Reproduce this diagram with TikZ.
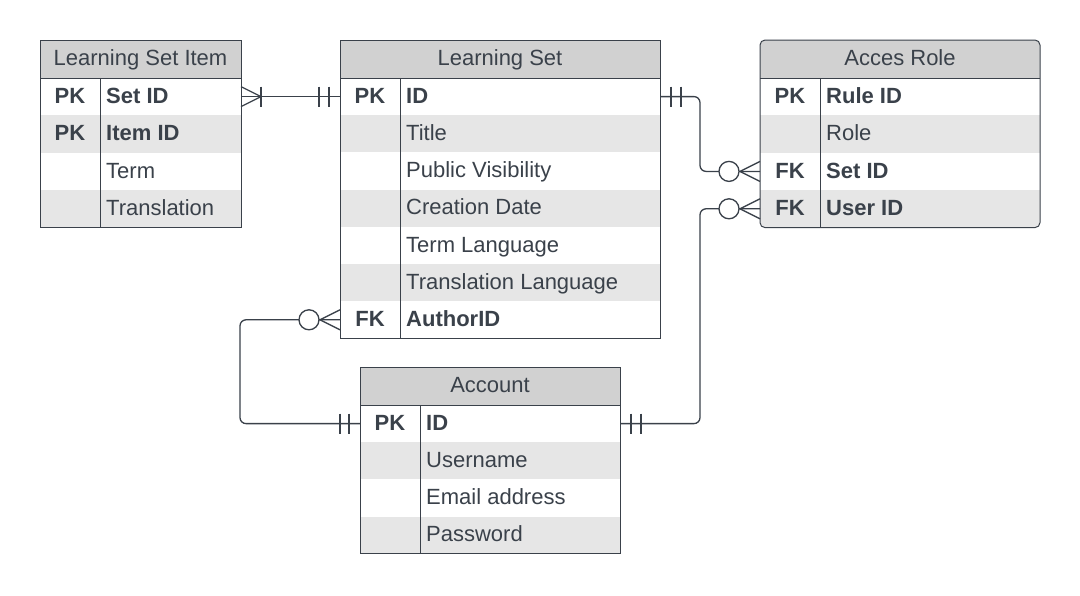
\documentclass[tikz,border=0pt]{standalone}
\usepackage{fontspec}
\setmainfont{Liberation Sans}
\usetikzlibrary{calc}
\definecolor{ink}{HTML}{3A414A}
\definecolor{hdr}{HTML}{D1D1D1}
\definecolor{alt}{HTML}{E6E6E6}
\newcommand\erfont{\fontsize{22}{26}\selectfont}
\tikzset{
  rowbox/.style={rectangle, inner sep=0pt, outer sep=0pt, minimum height=37.2pt, draw=none, anchor=north west},
  hdrbox/.style={rectangle, inner sep=0pt, outer sep=0pt, minimum height=38pt, anchor=north west, draw=none},
  hdrtxt/.style={font=\erfont, text=ink, inner sep=0pt, text height=15.7pt, text depth=0pt},
  keytxt/.style={font=\erfont\bfseries, text=ink, inner sep=0pt, text height=15.7pt, text depth=0pt},
  fldtxt/.style={font=\erfont, text=ink, anchor=west, inner sep=0pt, text height=15.7pt, text depth=0pt},
  border/.style={draw=ink, line width=1pt},
  conn/.style={draw=ink, line width=1.3pt},
  ring/.style={draw=ink, line width=1.3pt, fill=white},
}
% header: name, x, y, width, title
\newcommand\erhead[5]{%
  \node[hdrbox, fill=hdr, minimum width=#4pt] (#1) at (#2,#3) {};
  \node[hdrtxt] (#1-t) at ($(#1.center)+(0,-1.5)$) {#5};
}
% row with key: name, x, y, width, fill, key, field
\newcommand\erowk[7]{%
  \node[rowbox, fill=#5, minimum width=#4pt] (#1) at (#2,#3) {};
  \node[keytxt] (#1-k) at ($(#1.west)+(30,-1.2)$) {#6};
  \node[fldtxt] (#1-f) at ($(#1.west)+(66,-1.2)$) {#7};
}
% row without key
\newcommand\erow[6]{%
  \node[rowbox, fill=#5, minimum width=#4pt] (#1) at (#2,#3) {};
  \node[fldtxt] (#1-f) at ($(#1.west)+(66,-1.2)$) {#6};
}
\begin{document}
\begin{tikzpicture}[x=1pt,y=-1pt]
\useasboundingbox (0,0) rectangle (1080,595);
\fill[white] (0,0) rectangle (1080,595);

% ---------- Learning Set Item ----------
\erhead{lsi}{40}{40}{201}{Learning Set Item}
\erowk{lsi-r1}{40}{78}{201}{white}{PK}{\textbf{Set ID}}
\erowk{lsi-r2}{40}{115.4}{201}{alt}{PK}{\textbf{Item ID}}
\erow{lsi-r3}{40}{152.8}{201}{white}{Term}
\erow{lsi-r4}{40}{190.2}{201}{alt}{Translation}
\draw[border] (40,40) rectangle (241,227.6);
\draw[border] (40,78) -- (241,78);
\draw[border] (100,78) -- (100,227.6);

% ---------- Learning Set ----------
\erhead{ls}{340}{40}{320}{Learning Set}
\erowk{ls-r1}{340}{78}{320}{white}{PK}{\textbf{ID}}
\erow{ls-r2}{340}{115.2}{320}{alt}{Title}
\erow{ls-r3}{340}{152.4}{320}{white}{Public Visibility}
\erow{ls-r4}{340}{189.6}{320}{alt}{Creation Date}
\erow{ls-r5}{340}{226.8}{320}{white}{Term Language}
\erow{ls-r6}{340}{264}{320}{alt}{Translation Language}
\erowk{ls-r7}{340}{301.2}{320}{white}{FK}{\textbf{AuthorID}}
\draw[border] (340,40) rectangle (660,338.4);
\draw[border] (340,78) -- (660,78);
\draw[border] (400,78) -- (400,338.4);

% ---------- Acces Role ----------
\begin{scope}
  \clip[rounded corners=5pt] (760,40) rectangle (1040,227.6);
  \erhead{ar}{760}{40}{280}{Acces Role}
  \erowk{ar-r1}{760}{78}{280}{white}{PK}{\textbf{Rule ID}}
  \erow{ar-r2}{760}{115.4}{280}{alt}{Role}
  \erowk{ar-r3}{760}{152.8}{280}{white}{FK}{\textbf{Set ID}}
  \erowk{ar-r4}{760}{190.2}{280}{alt}{FK}{\textbf{User ID}}
\end{scope}
\draw[border, rounded corners=5pt] (760,40) rectangle (1040,227.6);
\draw[border] (760,78) -- (1040,78);
\draw[border] (820,78) -- (820,227.6);

% ---------- Account ----------
\erhead{acc}{360}{367}{260}{Account}
\erowk{acc-r1}{360}{405}{260}{white}{PK}{\textbf{ID}}
\erow{acc-r2}{360}{442.2}{260}{alt}{Username}
\erow{acc-r3}{360}{479.4}{260}{white}{Email address}
\erow{acc-r4}{360}{516.6}{260}{alt}{Password}
\draw[border] (360,367) rectangle (620,553.8);
\draw[border] (360,405) -- (620,405);
\draw[border] (420,405) -- (420,553.8);

% ---------- Connectors ----------
% Learning Set Item (many) -- Learning Set (one and only one)
\draw[conn] (lsi-r1.east) -- (ls-r1.west);
\draw[conn] ($(lsi-r1.east)+(0,-10)$) -- ($(lsi-r1.east)+(20,0)$) -- ($(lsi-r1.east)+(0,10)$);
\draw[conn] ($(lsi-r1.east)+(20,-10)$) -- ($(lsi-r1.east)+(20,10)$);
\draw[conn] ($(ls-r1.west)+(-21,-10)$) -- ($(ls-r1.west)+(-21,10)$);
\draw[conn] ($(ls-r1.west)+(-11,-10)$) -- ($(ls-r1.west)+(-11,10)$);

% Learning Set (one) -- Acces Role Set ID (zero or many)
\draw[conn, rounded corners=6pt] (ls-r1.east) -- ($(ls-r1.east)+(40,0)$) |- (ar-r3.west);
\draw[conn] ($(ls-r1.east)+(11,-10)$) -- ($(ls-r1.east)+(11,10)$);
\draw[conn] ($(ls-r1.east)+(21,-10)$) -- ($(ls-r1.east)+(21,10)$);
\draw[conn] ($(ar-r3.west)+(0,-10)$) -- ($(ar-r3.west)+(-20,0)$) -- ($(ar-r3.west)+(0,10)$);
\node[ring, circle, minimum size=20pt, inner sep=0pt] (ring1) at ($(ar-r3.west)+(-31,0)$) {};

% Account (one) -- Acces Role User ID (zero or many)
\draw[conn, rounded corners=6pt] (acc-r1.east) -- ($(acc-r1.east)+(80,0)$) |- (ar-r4.west);
\draw[conn] ($(acc-r1.east)+(11,-10)$) -- ($(acc-r1.east)+(11,10)$);
\draw[conn] ($(acc-r1.east)+(21,-10)$) -- ($(acc-r1.east)+(21,10)$);
\draw[conn] ($(ar-r4.west)+(0,-10)$) -- ($(ar-r4.west)+(-20,0)$) -- ($(ar-r4.west)+(0,10)$);
\node[ring, circle, minimum size=20pt, inner sep=0pt] (ring2) at ($(ar-r4.west)+(-31,0)$) {};

% Learning Set AuthorID (zero or many) -- Account ID (one)
\draw[conn, rounded corners=6pt] (ls-r7.west) -- ($(ls-r7.west)+(-100,0)$) |- (acc-r1.west);
\draw[conn] ($(ls-r7.west)+(0,-10)$) -- ($(ls-r7.west)+(-20,0)$) -- ($(ls-r7.west)+(0,10)$);
\node[ring, circle, minimum size=20pt, inner sep=0pt] (ring3) at ($(ls-r7.west)+(-31,0)$) {};
\draw[conn] ($(acc-r1.west)+(-20,-10)$) -- ($(acc-r1.west)+(-20,10)$);
\draw[conn] ($(acc-r1.west)+(-11,-10)$) -- ($(acc-r1.west)+(-11,10)$);
\end{tikzpicture}
\end{document}
